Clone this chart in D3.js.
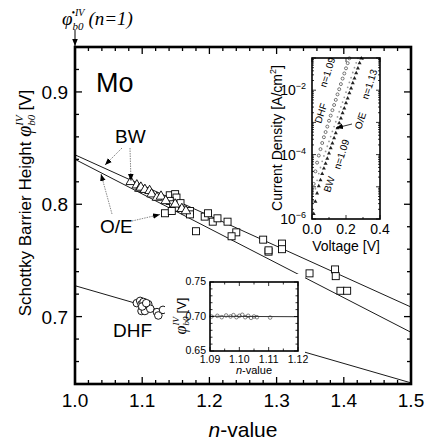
<!DOCTYPE html>
<html><head><meta charset="utf-8">
<script src="https://cdn.jsdelivr.net/npm/d3@7"></script>
<style>
body{margin:0;background:#fff}
svg{display:block}
text{font-family:"Liberation Sans",Arial,sans-serif;fill:#000}
.serif{font-family:"Liberation Serif","Times New Roman",serif;font-style:italic}
</style></head><body>
<svg id="chart" width="425" height="443"></svg>
<script>
// ---- main panel: barrier height vs ideality factor ----
const xTicks = [1.0, 1.1, 1.2, 1.3, 1.4, 1.5];
const yTicks = [0.7, 0.8, 0.9];
// [n, phi (V)]
const bwPoints = [[1.083,0.820],[1.092,0.817],[1.096,0.814],[1.098,0.815],[1.104,0.813],[1.111,0.812],
  [1.114,0.809],[1.122,0.806],[1.128,0.807],[1.135,0.803],[1.149,0.800],[1.159,0.796],[1.165,0.794]];
const oePoints = [[1.134,0.792],[1.141,0.808],[1.149,0.809],[1.151,0.806],[1.141,0.803],[1.146,0.800],
  [1.149,0.797],[1.157,0.801],[1.144,0.794],[1.171,0.794],[1.171,0.791],[1.193,0.789],[1.198,0.792],
  [1.205,0.7845],[1.212,0.7875],[1.227,0.7845],[1.180,0.776],[1.240,0.775],[1.233,0.7715],
  [1.280,0.7685],[1.288,0.7578],[1.288,0.759],[1.308,0.765],[1.308,0.760],[1.349,0.7385],
  [1.387,0.742],[1.388,0.736],[1.395,0.723],[1.405,0.723]];
const dhfPoints = [[1.092,0.712],[1.097,0.714],[1.099,0.711],[1.102,0.713],[1.104,0.710],[1.107,0.708],
  [1.109,0.711],[1.099,0.705],[1.104,0.705],[1.112,0.707],[1.100,0.709],[1.106,0.712],[1.122,0.704],
  [1.124,0.701],[1.131,0.706]];
// straight-line fits [n, phi] at both ends
const bwFit = [[1.0,0.844],[1.5,0.7085]];
const oeFit = [[1.0,0.840],[1.5,0.686]];
const dhfFit = [[1.0,0.7275],[1.5,0.641]];

// ---- lower inset: corrected barrier height for DHF ----
const insetNTicks = [1.09, 1.10, 1.11, 1.12];
const insetPhiTicks = [0.65, 0.70, 0.75];
const insetDhf = [[1.0905,0.700],[1.0925,0.701],[1.094,0.699],[1.0955,0.7015],[1.097,0.700],[1.098,0.702],
  [1.099,0.699],[1.100,0.701],[1.101,0.7025],[1.102,0.699],[1.103,0.701],[1.104,0.698],[1.105,0.700],
  [1.106,0.699],[1.1105,0.6985]];
const insetFit = [[1.09,0.7003],[1.12,0.6997]];

// ---- upper inset: J-V curves, [V, log10 J (A/cm^2)] ----
const ivVoltTicks = [0.0, 0.2, 0.4];
const ivDecadeLabels = [-6, -4, -2];
const ivDhf = [[0.01,-4.91],[0.02,-4.52],[0.03,-4.25],[0.04,-4.03],[0.05,-3.83],[0.06,-3.64],[0.07,-3.46],
  [0.08,-3.30],[0.09,-3.13],[0.10,-2.95],[0.11,-2.79],[0.12,-2.62],[0.13,-2.46],[0.14,-2.30],[0.15,-2.13],
  [0.16,-1.97],[0.17,-1.81],[0.18,-1.64],[0.19,-1.48],[0.20,-1.32],[0.21,-1.16],[0.22,-1.01]];
const ivOe = [[0.01,-5.44],[0.02,-5.06],[0.03,-4.80],[0.04,-4.59],[0.05,-4.40],[0.06,-4.21],[0.07,-4.04],
  [0.08,-3.90],[0.09,-3.74],[0.10,-3.59],[0.11,-3.44],[0.12,-3.28],[0.13,-3.13],[0.14,-2.98],[0.15,-2.83],
  [0.16,-2.67],[0.17,-2.52],[0.18,-2.37],[0.19,-2.22],[0.20,-2.06],[0.21,-1.91],[0.22,-1.76],[0.23,-1.61],
  [0.24,-1.45],[0.25,-1.30],[0.26,-1.15],[0.27,-1.01]];
const ivBw = [[0.01,-5.84],[0.02,-5.46],[0.03,-5.20],[0.04,-4.98],[0.05,-4.79],[0.06,-4.60],[0.07,-4.43],
  [0.08,-4.28],[0.09,-4.12],[0.10,-3.96],[0.11,-3.80],[0.12,-3.65],[0.13,-3.49],[0.14,-3.33],[0.15,-3.18],
  [0.16,-3.02],[0.17,-2.87],[0.18,-2.71],[0.19,-2.56],[0.20,-2.40],[0.21,-2.25],[0.22,-2.09],[0.23,-1.94],
  [0.24,-1.78],[0.25,-1.63],[0.26,-1.47],[0.27,-1.32],[0.28,-1.16],[0.29,-1.01]];

const svg = d3.select("#chart");
const defs = svg.append("defs");
defs.append("marker").attr("id","arrow").attr("viewBox","0 0 10 10").attr("refX",10).attr("refY",5)
  .attr("markerWidth",7).attr("markerHeight",7).attr("orient","auto-start-reverse")
  .attr("markerUnits","userSpaceOnUse")
  .append("path").attr("d","M0,1 L10,5 L0,9 Z").attr("fill","#000");

const x = d3.scaleLinear().domain([1.0,1.5]).range([75,411]);
const y = d3.scaleLinear().domain([0.64,0.94]).range([384,47]);
const line = d3.line().x(d=>x(d[0])).y(d=>y(d[1]));

const plot = svg.append("g");

// fitted lines
[bwFit, oeFit, dhfFit].forEach(f => plot.append("path").attr("d", line(f))
  .attr("fill","none").attr("stroke","#000").attr("stroke-width",0.9));

// data markers
plot.selectAll(".sq").data(oePoints).join("rect")
  .attr("x",d=>x(d[0])-3.5).attr("y",d=>y(d[1])-3.5).attr("width",7).attr("height",7)
  .attr("fill","#fff").attr("stroke","#000").attr("stroke-width",0.9);
const tri = d3.symbol().type(d3.symbolTriangle).size(40);
plot.selectAll(".tri").data(bwPoints).join("path")
  .attr("d",tri).attr("transform",d=>`translate(${x(d[0])},${y(d[1])})`)
  .attr("fill","#fff").attr("stroke","#000").attr("stroke-width",0.9);
plot.selectAll(".ci").data(dhfPoints).join("circle")
  .attr("cx",d=>x(d[0])).attr("cy",d=>y(d[1])).attr("r",3.8)
  .attr("fill","#fff").attr("stroke","#000").attr("stroke-width",0.9);

// frame and ticks (inward)
function frameTicks(g, xs, ys, xMaj, xMin, yMaj, yMin, lenMaj, lenMin, sw){
  const [x0,x1] = xs.range(), [y0,y1] = ys.range();
  const t = g.append("g").attr("stroke","#000").attr("stroke-width",sw*0.5);
  const seg = (a,b,c,d)=>t.append("line").attr("x1",a).attr("y1",b).attr("x2",c).attr("y2",d);
  xMaj.forEach(v=>{ seg(xs(v),y0,xs(v),y0-lenMaj); seg(xs(v),y1,xs(v),y1+lenMaj); });
  xMin.forEach(v=>{ seg(xs(v),y0,xs(v),y0-lenMin); seg(xs(v),y1,xs(v),y1+lenMin); });
  yMaj.forEach(v=>{ seg(x0,ys(v),x0+lenMaj,ys(v)); seg(x1,ys(v),x1-lenMaj,ys(v)); });
  yMin.forEach(v=>{ seg(x0,ys(v),x0+lenMin,ys(v)); seg(x1,ys(v),x1-lenMin,ys(v)); });
  g.append("rect").attr("x",x0).attr("y",y1).attr("width",x1-x0).attr("height",y0-y1)
    .attr("fill","none").attr("stroke","#000").attr("stroke-width",sw);
}
const xMinor = d3.range(1.02,1.5,0.02).filter(v=>Math.abs(v*10-Math.round(v*10))>1e-6);
const yMinor = d3.range(0.66,0.94,0.02).filter(v=>Math.abs(v*10-Math.round(v*10))>1e-6);
frameTicks(plot, x, y, xTicks, xMinor, yTicks, yMinor, 7, 4, 2.6);

// tick labels
plot.selectAll(".xl").data(xTicks).join("text").attr("x",d=>x(d)).attr("y",407)
  .attr("text-anchor","middle").attr("font-size",19).text(d3.format(".1f"));
plot.selectAll(".yl").data(yTicks).join("text").attr("x",68).attr("y",d=>y(d)+7)
  .attr("text-anchor","end").attr("font-size",19).text(d3.format(".1f"));

// axis titles
const xt = svg.append("text").attr("x",243).attr("y",437).attr("text-anchor","middle").attr("font-size",21);
xt.append("tspan").attr("font-style","italic").text("n");
xt.append("tspan").text("-value");

const yt = svg.append("text").attr("transform","translate(31,203) rotate(-90)")
  .attr("text-anchor","middle").attr("font-size",17);
yt.append("tspan").text("Schottky Barrier Height ");
yt.append("tspan").attr("class","serif").attr("font-size",20).text("\u03c6");
yt.append("tspan").attr("class","serif").attr("font-size",11).attr("dy",4).text("b0");
yt.append("tspan").attr("class","serif").attr("font-size",11).attr("dx",-11).attr("dy",-12).text("IV");
yt.append("tspan").attr("dy",8).text(" [V]");

// top annotation with arrow
const ta = svg.append("text").attr("x",62).attr("y",25).attr("font-size",19);
ta.append("tspan").attr("class","serif").text("\u03c6");
ta.append("tspan").attr("class","serif").attr("font-size",11).attr("dy",5).text("b0");
ta.append("tspan").attr("class","serif").attr("font-size",10).attr("dx",-12).attr("dy",-14).text("\u2022IV");
ta.append("tspan").attr("class","serif").attr("font-style","normal").attr("dx",4).attr("dy",9).text("(");
ta.append("tspan").attr("class","serif").text("n");
ta.append("tspan").attr("class","serif").attr("font-style","normal").text("=1)");
svg.append("line").attr("x1",75).attr("y1",30).attr("x2",75).attr("y2",46)
  .attr("stroke","#000").attr("stroke-width",1).attr("marker-end","url(#arrow)");

// panel annotations
svg.append("text").attr("x",96).attr("y",92).attr("font-size",27).text("Mo");
svg.append("text").attr("x",115).attr("y",143).attr("font-size",19).text("BW");
svg.append("text").attr("x",100).attr("y",233).attr("font-size",19).text("O/E");
svg.append("text").attr("x",113).attr("y",337).attr("font-size",19).text("DHF");
const arrows = [
  [[122,148],[105,165]], [[130,148],[131,181]],
  [[112,214],[101,174]], [[132,221],[160,214.5]]
];
arrows.forEach(a => svg.append("line").attr("x1",a[0][0]).attr("y1",a[0][1]).attr("x2",a[1][0]).attr("y2",a[1][1])
  .attr("stroke","#555").attr("stroke-width",0.7).attr("stroke-dasharray","1.5,1")
  .attr("marker-end","url(#arrow)"));

// ---- lower inset ----
const li = svg.append("g");
li.append("rect").attr("x",165).attr("y",274).attr("width",140).attr("height",102).attr("fill","#fff");
const ix = d3.scaleLinear().domain([1.09,1.12]).range([210,298]);
const iy = d3.scaleLinear().domain([0.65,0.75]).range([351,282]);
li.append("path").attr("d", d3.line().x(d=>ix(d[0])).y(d=>iy(d[1]))(insetFit))
  .attr("stroke","#000").attr("stroke-width",0.8).attr("fill","none");
li.selectAll("circle").data(insetDhf).join("circle").attr("cx",d=>ix(d[0])).attr("cy",d=>iy(d[1]))
  .attr("r",1.8).attr("fill","none").attr("stroke","#333").attr("stroke-width",0.6);
frameTicks(li, ix, iy, insetNTicks, [1.095,1.105,1.115], insetPhiTicks, d3.range(0.66,0.75,0.01).filter(v=>Math.abs(v-0.7)>1e-6), 4, 2.5, 1.6);
li.selectAll(".ixl").data(insetNTicks).join("text").attr("x",d=>ix(d)).attr("y",363)
  .attr("text-anchor","middle").attr("font-size",10.5).text(d3.format(".2f"));
li.selectAll(".iyl").data(insetPhiTicks).join("text").attr("x",206).attr("y",d=>iy(d)+3)
  .attr("text-anchor","end").attr("font-size",10.5).text(d3.format(".2f"));
const ixt = li.append("text").attr("x",254).attr("y",374).attr("text-anchor","middle").attr("font-size",11);
ixt.append("tspan").attr("font-style","italic").text("n");
ixt.append("tspan").text("-value");
const iyt = li.append("text").attr("transform","translate(186,316) rotate(-90)").attr("text-anchor","middle").attr("font-size",13);
iyt.append("tspan").attr("class","serif").attr("font-size",16).text("\u03c6");
iyt.append("tspan").attr("class","serif").attr("font-size",9).attr("dy",3).text("b0");
iyt.append("tspan").attr("class","serif").attr("font-size",9).attr("dx",-9).attr("dy",-10).text("IV");
iyt.append("tspan").attr("dy",7).text(" [V]");

// ---- upper inset ----
const ui = svg.append("g");
const vx = d3.scaleLinear().domain([0,0.4]).range([312,380]);
const jy = d3.scaleLog().domain([1e-6,1e-1]).range([219,58]);
const pt = d => [vx(d[0]), jy(Math.pow(10,d[1]))];
ui.selectAll(".c").data(ivDhf).join("circle").attr("cx",d=>pt(d)[0]).attr("cy",d=>pt(d)[1])
  .attr("r",1.5).attr("fill","#fff").attr("stroke","#222").attr("stroke-width",0.6);
ui.selectAll(".g").data(ivOe).join("circle").attr("cx",d=>pt(d)[0]).attr("cy",d=>pt(d)[1])
  .attr("r",0.9).attr("fill","#999");
const stri = d3.symbol().type(d3.symbolTriangle).size(7);
ui.selectAll(".t").data(ivBw).join("path").attr("d",stri)
  .attr("transform",d=>`translate(${pt(d)[0]},${pt(d)[1]})`).attr("fill","#222");
const decMaj = d3.range(-6,0).map(e=>Math.pow(10,e));
const decMin = [];
d3.range(-6,-1).forEach(e=>{ for(let k=2;k<10;k++) decMin.push(k*Math.pow(10,e)); });
frameTicks(ui, vx, jy, ivVoltTicks, [0.1,0.3], decMaj, decMin, 4, 2, 1.6);
ui.selectAll(".vl").data(ivVoltTicks).join("text").attr("x",d=>vx(d)).attr("y",234)
  .attr("text-anchor","middle").attr("font-size",14).text(d3.format(".1f"));
ivDecadeLabels.forEach(e=>{
  const t = ui.append("text").attr("x",306).attr("y",jy(Math.pow(10,e))+5).attr("text-anchor","end").attr("font-size",14);
  t.append("tspan").text("10");
  t.append("tspan").attr("font-size",9).attr("dy",-6).text(String(e).replace("-","\u2212"));
});
ui.append("text").attr("x",346).attr("y",251).attr("text-anchor","middle").attr("font-size",14).text("Voltage [V]");
const cd = ui.append("text").attr("transform","translate(282,138) rotate(-90)").attr("text-anchor","middle").attr("font-size",14);
cd.append("tspan").text("Current Density [A/cm");
cd.append("tspan").attr("font-size",9).attr("dy",-6).text("2");
cd.append("tspan").attr("dy",6).text("]");
const rot = (xx,yy,s)=>ui.append("text").attr("transform",`translate(${xx},${yy}) rotate(-72)`).attr("font-size",10).text(s);
rot(321,124,"DHF"); rot(326,88,"n=1.09");
rot(330,193,"BW"); rot(340,170,"n=1.09");
rot(361,130,"O/E"); rot(368,100,"n=1.13");
ui.append("line").attr("x1",352).attr("y1",124).attr("x2",336).attr("y2",128)
  .attr("stroke","#000").attr("stroke-width",0.8).attr("marker-end","url(#arrow)");
</script>
</body></html>
